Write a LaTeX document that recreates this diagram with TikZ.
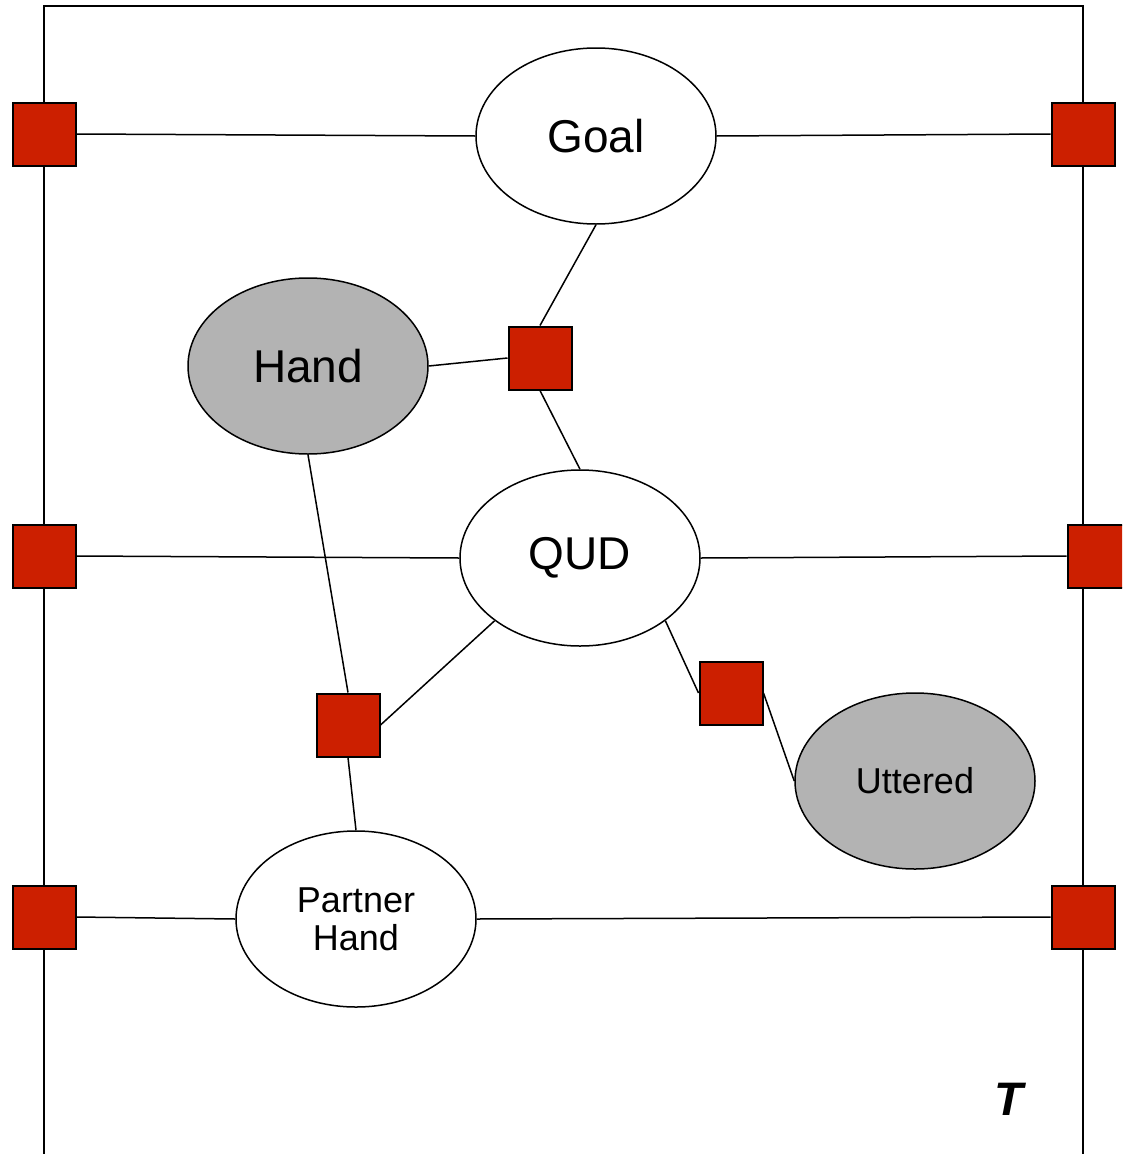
\documentclass[tikz,border=0pt]{standalone}
\usepackage{fontspec}
\setmainfont{Liberation Sans}
\usetikzlibrary{shapes.geometric}
\definecolor{fred}{RGB}{204,31,0}
\definecolor{obsgray}{RGB}{179,179,179}
\tikzset{
  factor/.style={draw=black, line width=2pt, fill=fred, minimum size=63pt, inner sep=0pt},
  var/.style={draw=black, line width=1.5pt, ellipse, minimum width=240pt, minimum height=176pt, inner sep=0pt, fill=white},
  obs/.style={var, fill=obsgray},
  big/.style={font=\fontsize{46}{50}\selectfont},
  small/.style={font=\fontsize{36}{40}\selectfont, align=center},
  edge/.style={line width=1.5pt, draw=black}
}
\begin{document}
\begin{tikzpicture}[x=1pt,y=-1pt]
\useasboundingbox (0,0) rectangle (1122,1154);
\clip (0,0) rectangle (1122,1154);
\fill[white] (0,0) rectangle (1122,1154);
% plate
\draw[line width=1.5pt] (44,1160) -- (44,6) -- (1083,6) -- (1083,1160);
% variables
\node[var,big] (goal) at (596,136) {Goal};
\node[obs,big] (hand) at (308,366) {Hand};
\node[var,big] (qud) at (580,558) {QUD};
\node[obs,small] (utt) at (915,781) {Uttered};
\node[var,small] (partner) at (356,919) {Partner\\[-2pt]Hand};
% factors
\node[factor] (fl1) at (44,134) {};
\node[factor] (fr1) at (1083,134) {};
\node[factor] (fl2) at (44,556) {};
\node[factor] (fr2) at (1099,556) {};
\node[factor] (fl3) at (44,917) {};
\node[factor] (fr3) at (1083,917) {};
\node[factor] (f1) at (540,358) {};
\node[factor] (f2) at (348,725) {};
\node[factor] (f3) at (731,693) {};
% connectors
\draw[edge] (fl1.east) -- (goal.west);
\draw[edge] (goal.east) -- (fr1.west);
\draw[edge] (goal.south) -- (f1.north);
\draw[edge] (hand.east) -- (f1.west);
\draw[edge] (f1.south) -- (qud.north);
\draw[edge] (fl2.east) -- (qud.west);
\draw[edge] (qud.east) -- (fr2.west);
\draw[edge] (hand.south) -- (f2.north);
\draw[edge] (f2.east) -- (qud.south west);
\draw[edge] (f2.south) -- (partner.north);
\draw[edge] (qud.south east) -- (f3.west);
\draw[edge] (f3.east) -- (utt.west);
\draw[edge] (fl3.east) -- (partner.west);
\draw[edge] (partner.east) -- (fr3.west);
% plate label
\node[font=\fontsize{47}{50}\selectfont\bfseries\itshape] (tlabel) at (1009,1099) {T};
\end{tikzpicture}
\end{document}
